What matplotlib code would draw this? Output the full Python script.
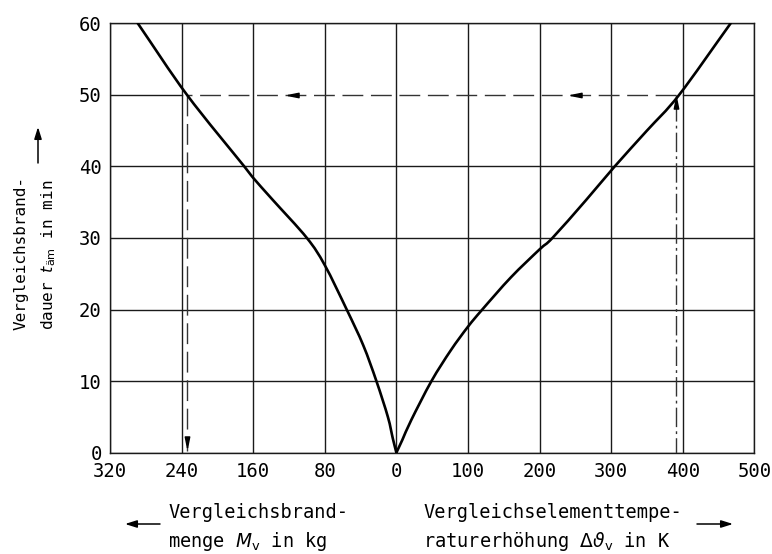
import matplotlib
matplotlib.use("Agg")
import matplotlib.pyplot as plt
from matplotlib.patches import FancyArrowPatch, PathPatch
from matplotlib.path import Path
import numpy as np

# Left branch: comparison fire load M_v in kg -> equivalent fire duration in min
mass_kg = [0, 4, 9.5, 22.3, 37, 55.5, 80, 100, 138, 160, 170, 234, 289]
mass_t = [0, 2, 5, 10, 15, 20, 26.2, 30, 35.3, 38.4, 40, 50, 60]

# Right branch: comparison element temperature rise in K -> duration in min
temp_k = [0, 8.4, 21, 49, 76, 100, 120, 160, 200, 218, 265, 305, 350, 395, 467]
temp_t = [0, 1.8, 4.6, 10, 14.3, 17.6, 20, 24.5, 28.4, 30, 35.3, 40, 45, 50, 60]

# Worked example read-off
example_t = 50
example_mass = 233.5
example_temp = 390

# Axis ticks (left half in kg, right half in K)
mass_ticks = [320, 240, 160, 80]
temp_ticks = [0, 100, 200, 300, 400, 500]
time_ticks = [0, 10, 20, 30, 40, 50, 60]

MASS_PER_CELL = 80.0
TEMP_PER_CELL = 100.0


def u_mass(m):
    return -np.asarray(m, dtype=float) / MASS_PER_CELL


def u_temp(k):
    return np.asarray(k, dtype=float) / TEMP_PER_CELL


def smooth_path(xs, ys):
    """Catmull-Rom curve through the points, expressed as cubic Bezier segments."""
    p = np.column_stack([xs, ys]).astype(float)
    ext = np.vstack([2 * p[0] - p[1], p, 2 * p[-1] - p[-2]])
    verts = [p[0]]
    codes = [Path.MOVETO]
    for i in range(1, len(ext) - 2):
        p0, p1, p2, p3 = ext[i - 1], ext[i], ext[i + 1], ext[i + 2]
        verts += [p1 + (p2 - p0) / 6.0, p2 - (p3 - p1) / 6.0, p2]
        codes += [Path.CURVE4] * 3
    return Path(verts, codes)


plt.rcParams["font.family"] = ["DejaVu Sans Mono", "DejaVu Sans"]
plt.rcParams["mathtext.fontset"] = "dejavusans"

fig = plt.figure(figsize=(7.72, 5.54), dpi=100)
ax = fig.add_axes([0.1425, 0.1829, 0.8346, 0.7751])

ax.set_xlim(-4, 5)
ax.set_ylim(0, 60)

xt = list(u_mass(mass_ticks)) + list(u_temp(temp_ticks))
xl = [str(v) for v in mass_ticks] + [str(v) for v in temp_ticks]
ax.set_xticks(xt)
ax.set_xticklabels(xl)
ax.set_yticks(time_ticks)
ax.set_yticklabels([str(v) for v in time_ticks])
ax.tick_params(axis="both", length=0, labelsize=13.6, colors="black")
ax.tick_params(axis="x", pad=7)
ax.tick_params(axis="y", pad=6)

grid_kw = dict(color="#1a1a1a", linewidth=1.0)
ax.grid(True, **grid_kw)
ax.set_axisbelow(True)
for sp in ax.spines.values():
    sp.set_linewidth(1.0)
    sp.set_color("#1a1a1a")

# The grid line at the example duration is replaced by the dashed guide
ax.yaxis.get_gridlines()[time_ticks.index(example_t)].set_visible(False)
ax.plot([-4, u_mass(240)], [example_t, example_t], zorder=0.5, **grid_kw)
ax.plot([u_temp(400), 5], [example_t, example_t], zorder=0.5, **grid_kw)

# Curves
for xs, ys in ((u_mass(mass_kg), mass_t), (u_temp(temp_k), temp_t)):
    ax.add_patch(PathPatch(smooth_path(xs, ys), facecolor="none",
                           edgecolor="black", lw=1.9, capstyle="round",
                           joinstyle="round", zorder=4))

# Example read-off: dashed guide lines
dash_kw = dict(color="#333333", lw=1.0, zorder=3)
ax.plot([u_temp(example_temp), u_mass(example_mass)], [example_t, example_t],
        linestyle=(0, (15, 5.5)), **dash_kw)
ax.plot([u_temp(example_temp), u_temp(example_temp)], [0, example_t],
        linestyle=(3, (14, 3, 2, 3)), **dash_kw)
ax.plot([u_mass(example_mass), u_mass(example_mass)], [example_t, 0.3],
        linestyle=(0, (15, 5.5)), **dash_kw)

# Slender arrowheads along the guide lines
head_left = [(-1, 0), (1, 0.4), (1, -0.4), (-1, 0)]
head_up = [(0, 1), (0.4, -1), (-0.4, -1), (0, 1)]
head_down = [(0, -1), (0.4, 1), (-0.4, 1), (0, -1)]
ax.plot([u_mass(115.5), u_temp(251.4)], [example_t, example_t], linestyle="none",
        marker=head_left, markersize=8, color="black", zorder=5)
ax.plot([u_temp(example_temp)], [48.9], linestyle="none", marker=head_up,
        markersize=8, color="black", zorder=5)
ax.plot([u_mass(example_mass)], [1.5], linestyle="none", marker=head_down,
        markersize=8, color="black", zorder=5)

# Axis titles
fs = 13.4
fig.text(0.2176, 0.0644, "Vergleichsbrand-", fontsize=fs, ha="left", va="baseline")
fig.text(0.2176, 0.0132, r"menge $M_\mathrm{v}$ in kg", fontsize=fs, ha="left",
         va="baseline")
fig.text(0.548, 0.0644, "Vergleichselementtempe-", fontsize=fs, ha="left",
         va="baseline")
fig.text(0.548, 0.0132, r"raturerhöhung $\Delta\vartheta_\mathrm{v}$ in K",
         fontsize=fs, ha="left", va="baseline")

fig.text(0.0272, 0.404, "Vergleichsbrand-", fontsize=11.5, rotation=90,
         ha="center", va="bottom")
fig.text(0.063, 0.404, r"dauer $t_{\mathrm{äm}}$ in min", fontsize=11.5,
         rotation=90, ha="center", va="bottom")

arrow_kw = dict(arrowstyle="-|>,head_length=0.7,head_width=0.22", color="black",
                lw=1.1, shrinkA=0, shrinkB=0, mutation_scale=10,
                transform=fig.transFigure)
fig.add_artist(FancyArrowPatch((160 / 772, 30 / 554), (125 / 772, 30 / 554),
                               **arrow_kw))
fig.add_artist(FancyArrowPatch((697 / 772, 30 / 554), (733 / 772, 30 / 554),
                               **arrow_kw))
fig.add_artist(FancyArrowPatch((38 / 772, 391 / 554), (38 / 772, 427 / 554),
                               **arrow_kw))

fig.savefig("out.png", dpi=100, facecolor="white")
